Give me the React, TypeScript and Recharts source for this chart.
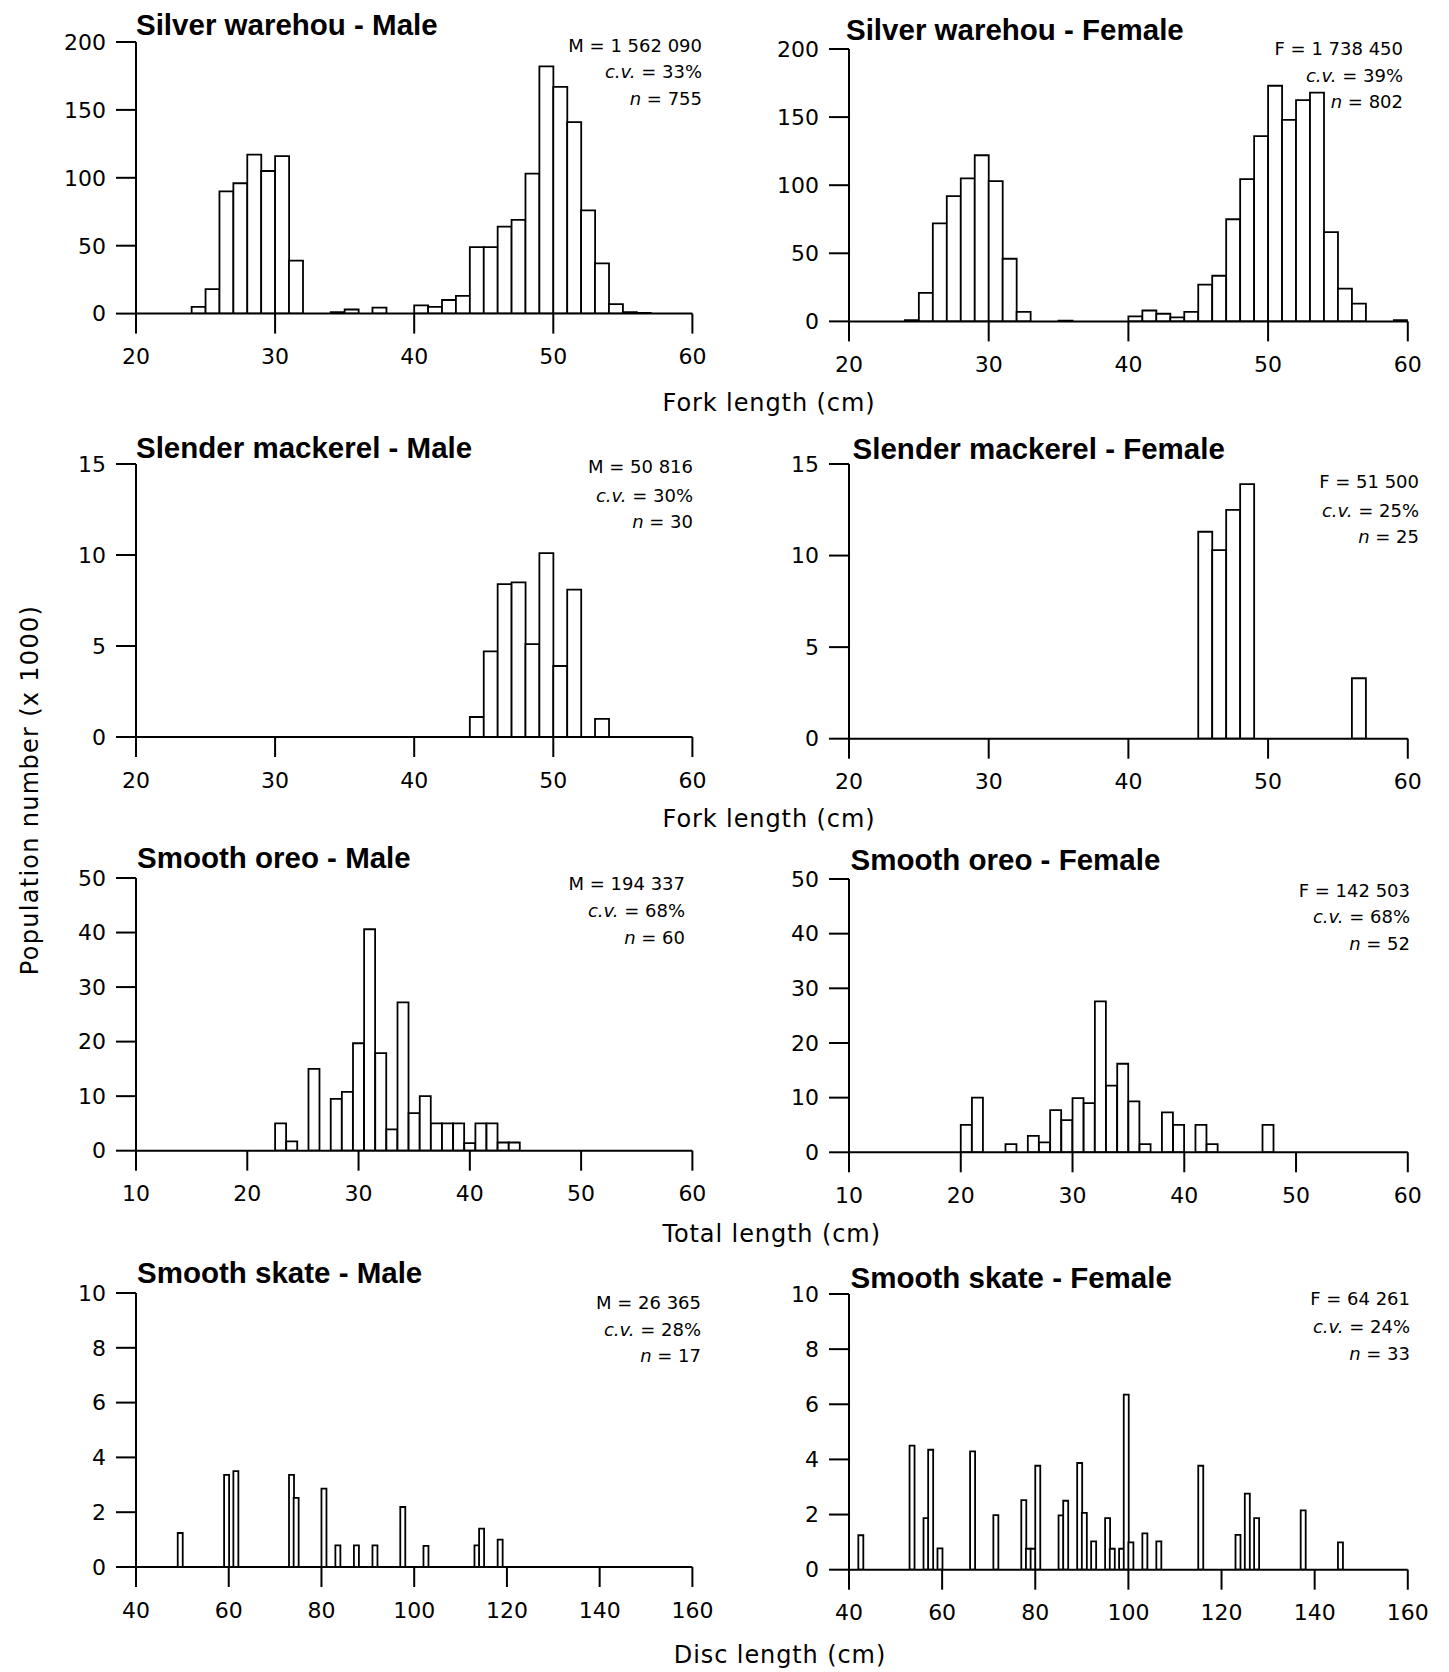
import { Bar, BarChart, XAxis, YAxis } from 'recharts';

// population number (x 1000) per 1 cm length class; first value is the centre of the first class
const swMaleStart = 24.5;
const swMale = [5, 18, 90, 96, 117, 105, 116, 39, 0, 0, 1, 3, 0, 4.4, 0, 0, 6, 5, 10, 13, 49, 49, 64, 69, 103, 182, 167, 141, 76, 37, 7, 1, 0.5];
const swFemaleStart = 24.5;
const swFemale = [1, 21, 72, 92, 105, 122, 103, 46, 7, 0, 0, 0.6, 0, 0, 0, 0, 3.7, 8, 5.6, 3, 7, 27, 33.5, 75, 104.5, 136, 173, 148, 162.5, 168, 65.6, 24, 13, 0, 0, 1];
const smMaleStart = 44.5;
const smMale = [1.1, 4.7, 8.4, 8.5, 5.1, 10.1, 3.9, 8.1, 0, 1.0];
const smFemaleStart = 45.5;
const smFemale = [11.3, 10.3, 12.5, 13.9, 0, 0, 0, 0, 0, 0, 0, 3.3];
const soMaleStart = 23;
const soMale = [5, 1.7, 0, 15, 0, 9.5, 10.8, 19.7, 40.6, 17.9, 3.9, 27.2, 6.9, 10, 5, 5, 5, 1.4, 5, 5, 1.5, 1.5];
const soFemaleStart = 20.5;
const soFemale = [5, 10, 0, 0, 1.5, 0, 3, 1.8, 7.7, 5.9, 9.9, 9, 27.6, 12.2, 16.2, 9.3, 1.5, 0, 7.3, 5, 0, 5, 1.5, 0, 0, 0, 0, 5];
// skate: sparse classes (centres) and values
const skMaleLen = [49.5, 59.5, 61.5, 73.5, 74.5, 80.5, 83.5, 87.5, 91.5, 97.5, 102.5, 113.5, 114.5, 118.5];
const skMale = [1.24, 3.36, 3.5, 3.36, 2.52, 2.86, 0.79, 0.79, 0.79, 2.19, 0.77, 0.79, 1.4, 1.0];
const skFemaleLen = [42.5, 53.5, 56.5, 57.5, 59.5, 66.5, 71.5, 77.5, 78.5, 79.5, 80.5, 85.5, 86.5, 89.5, 90.5, 92.5, 95.5, 96.5, 98.5, 99.5, 100.5, 103.5, 106.5, 115.5, 123.5, 125.5, 127.5, 137.5, 145.5];
const skFemale = [1.25, 4.5, 1.87, 4.35, 0.77, 4.29, 1.98, 2.52, 0.76, 0.76, 3.77, 1.97, 2.5, 3.87, 2.06, 1.03, 1.87, 0.76, 0.76, 6.35, 0.99, 1.32, 1.03, 3.77, 1.26, 2.76, 1.87, 2.15, 0.99];

const forkTicks = [20, 30, 40, 50, 60];
const totalTicks = [10, 20, 30, 40, 50, 60];
const discTicks = [40, 60, 80, 100, 120, 140, 160];

type Row = { x: number; v: number };

const dense = (start: number, vals: number[]): Row[] =>
  vals.map((v, i) => ({ x: start + i, v }));

const sparse = (lens: number[], vals: number[]): Row[] => {
  const rows: Row[] = [];
  for (let x = lens[0]; x <= lens[lens.length - 1]; x++) {
    const k = lens.indexOf(x);
    rows.push({ x, v: k >= 0 ? vals[k] : 0 });
  }
  return rows;
};

const LX: [number, number] = [135.9, 692.3];
const RX: [number, number] = [849.2, 1408];

const panels = [
  { title: 'Silver warehou - Male', stat: 'M = 1 562 090', cv: '33%', n: '755', data: dense(swMaleStart, swMale),
    xd: [20, 60], xt: forkTicks, yd: [0, 200], yt: [0, 50, 100, 150, 200],
    x: LX, y: [41.7, 313.3], tx: 136, ty: 35, sx: 702, sy: [51.7, 78.3, 105] },
  { title: 'Silver warehou - Female', stat: 'F = 1 738 450', cv: '39%', n: '802', data: dense(swFemaleStart, swFemale),
    xd: [20, 60], xt: forkTicks, yd: [0, 200], yt: [0, 50, 100, 150, 200],
    x: RX, y: [49.3, 321.7], tx: 846, ty: 40, sx: 1403, sy: [55, 81.7, 108.3] },
  { title: 'Slender mackerel - Male', stat: 'M = 50 816', cv: '30%', n: '30', data: dense(smMaleStart, smMale),
    xd: [20, 60], xt: forkTicks, yd: [0, 15], yt: [0, 5, 10, 15],
    x: LX, y: [464.3, 737.3], tx: 136, ty: 458, sx: 693, sy: [473.3, 501.7, 528.3] },
  { title: 'Slender mackerel - Female', stat: 'F = 51 500', cv: '25%', n: '25', data: dense(smFemaleStart, smFemale),
    xd: [20, 60], xt: forkTicks, yd: [0, 15], yt: [0, 5, 10, 15],
    x: RX, y: [464.3, 739], tx: 852.6, ty: 459, sx: 1419, sy: [488, 516.7, 543.3] },
  { title: 'Smooth oreo - Male', stat: 'M = 194 337', cv: '68%', n: '60', data: dense(soMaleStart, soMale),
    xd: [10, 60], xt: totalTicks, yd: [0, 50], yt: [0, 10, 20, 30, 40, 50],
    x: LX, y: [878.3, 1151], tx: 137, ty: 868, sx: 685, sy: [890, 917.3, 944.3] },
  { title: 'Smooth oreo - Female', stat: 'F = 142 503', cv: '68%', n: '52', data: dense(soFemaleStart, soFemale),
    xd: [10, 60], xt: totalTicks, yd: [0, 50], yt: [0, 10, 20, 30, 40, 50],
    x: RX, y: [879, 1152.3], tx: 850.5, ty: 870, sx: 1410, sy: [896.7, 923.3, 950] },
  { title: 'Smooth skate - Male', stat: 'M = 26 365', cv: '28%', n: '17', data: sparse(skMaleLen, skMale),
    xd: [40, 160], xt: discTicks, yd: [0, 10], yt: [0, 2, 4, 6, 8, 10],
    x: LX, y: [1293.3, 1567.3], tx: 137, ty: 1283, sx: 701, sy: [1309.3, 1336, 1361.7] },
  { title: 'Smooth skate - Female', stat: 'F = 64 261', cv: '24%', n: '33', data: sparse(skFemaleLen, skFemale),
    xd: [40, 160], xt: discTicks, yd: [0, 10], yt: [0, 2, 4, 6, 8, 10],
    x: RX, y: [1294.3, 1570], tx: 850.5, ty: 1288, sx: 1410, sy: [1305, 1333.3, 1360] },
];

const axisTitles = [
  { text: 'Fork length (cm)', x: 769, y: 411 },
  { text: 'Fork length (cm)', x: 769, y: 827 },
  { text: 'Total length (cm)', x: 771.7, y: 1242 },
  { text: 'Disc length (cm)', x: 780, y: 1663 },
];

const font = 'DejaVu Sans, Arial, sans-serif';
const line = { stroke: '#000', strokeWidth: 2 };
const tick = { fill: '#000', fontSize: 22, fontFamily: font };

const Hist = ({ p }: { p: (typeof panels)[number] }) => {
  const ml = 80;
  const mt = 20;
  const mr = 36;
  const xh = 60;
  const w = ml + (p.x[1] - p.x[0]) + mr;
  const h = mt + (p.y[1] - p.y[0]) + xh;
  return (
    <div style={{ position: 'absolute', left: p.x[0] - ml, top: p.y[0] - mt }}>
      <BarChart
        width={w}
        height={h}
        data={p.data}
        margin={{ top: mt, right: mr, left: 0, bottom: 0 }}
        barCategoryGap={0}
        barGap={0}
      >
        <XAxis
          type="number"
          dataKey="x"
          domain={p.xd}
          ticks={p.xt}
          interval={0}
          allowDataOverflow
          height={xh}
          tickSize={20}
          tickMargin={15}
          axisLine={line}
          tickLine={line}
          tick={tick}
        />
        <YAxis
          type="number"
          domain={p.yd}
          ticks={p.yt}
          interval={0}
          allowDataOverflow
          width={ml}
          tickSize={20}
          tickMargin={10}
          axisLine={line}
          tickLine={line}
          tick={tick}
        />
        <Bar dataKey="v" fill="#fff" stroke="#000" strokeWidth={1.8} isAnimationActive={false} />
      </BarChart>
    </div>
  );
};

export default function App() {
  return (
    <div style={{ position: 'absolute', left: 0, top: 0, width: 1449, height: 1672, background: '#fff' }}>
      {panels.map((p) => (
        <Hist key={p.title} p={p} />
      ))}
      <svg width={1449} height={1672} style={{ position: 'absolute', left: 0, top: 0, pointerEvents: 'none' }}>
        {panels.map((p) => (
          <g key={p.title}>
            <text x={p.tx} y={p.ty} fontFamily="Liberation Sans, Arial, sans-serif" fontWeight="bold" fontSize={29.5}>
              {p.title}
            </text>
            <g fontFamily={font} fontSize={18} textAnchor="end">
              <text x={p.sx} y={p.sy[0]}>{p.stat}</text>
              <text x={p.sx} y={p.sy[1]}>
                <tspan fontStyle="italic">c.v.</tspan> = {p.cv}
              </text>
              <text x={p.sx} y={p.sy[2]}>
                <tspan fontStyle="italic">n</tspan> = {p.n}
              </text>
            </g>
          </g>
        ))}
        {axisTitles.map((t, i) => (
          <text key={i} x={t.x} y={t.y} textAnchor="middle" fontFamily={font} fontSize={24} letterSpacing={0.9}>
            {t.text}
          </text>
        ))}
        <text
          x={37.5}
          y={790}
          transform="rotate(-90 37.5 790)"
          textAnchor="middle"
          fontFamily={font}
          fontSize={24}
          letterSpacing={1.3}
        >
          Population number (x 1000)
        </text>
      </svg>
    </div>
  );
}
